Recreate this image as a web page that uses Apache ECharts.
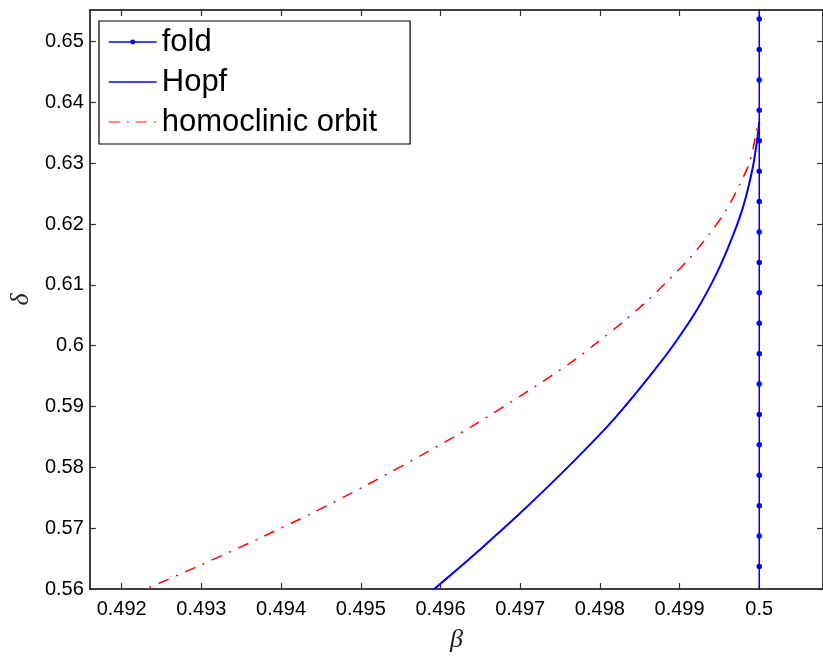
<!DOCTYPE html>
<html><head><meta charset="utf-8">
<script src="https://cdn.jsdelivr.net/npm/echarts@6/dist/echarts.min.js"></script>
<style>html,body{margin:0;padding:0;background:#fff}#c{width:823px;height:658px}</style>
</head><body><div id="c"></div>
<script>
const xTicks = [0.492, 0.493, 0.494, 0.495, 0.496, 0.497, 0.498, 0.499, 0.5];
const yTicks = [0.56, 0.57, 0.58, 0.59, 0.6, 0.61, 0.62, 0.63, 0.64, 0.65];

const foldBeta = 0.5;
const foldDelta = [0.5587, 0.5637, 0.5687, 0.5737, 0.5787, 0.5837, 0.5887, 0.5937, 0.5987, 0.6037, 0.6087, 0.6137, 0.6187, 0.6237, 0.6287, 0.6337, 0.6387, 0.6437, 0.6487, 0.6537, 0.6587];

const hopfBeta  = [0.49583, 0.495922, 0.496235, 0.496465, 0.496995, 0.497620, 0.498192, 0.498665, 0.498962, 0.499224, 0.499450, 0.499600, 0.499746, 0.499835, 0.499922, 0.499980, 0.5];
const hopfDelta = [0.559, 0.56, 0.5635, 0.56613, 0.57241, 0.58033, 0.58815, 0.59564, 0.60082, 0.60602, 0.61148, 0.61585, 0.62077, 0.62459, 0.62951, 0.63443, 0.6368];

const homBeta  = [0.49213, 0.492305, 0.492991, 0.493698, 0.494396, 0.495077, 0.495818, 0.496379, 0.497044, 0.497688, 0.49798, 0.498291, 0.498581, 0.498852, 0.499122, 0.499371, 0.499591, 0.499766, 0.49989, 0.499982];
const homDelta = [0.559, 0.56, 0.56393, 0.56815, 0.57252, 0.57711, 0.58241, 0.58662, 0.59208, 0.5977, 0.60066, 0.60393, 0.60721, 0.61066, 0.61433, 0.61831, 0.62241, 0.62679, 0.63061, 0.63662];

const seriesNames = ['fold', 'Hopf', 'homoclinic orbit'];

const zip = (xs, ys) => ys.map((y, i) => [Array.isArray(xs) ? xs[i] : xs, y]);

const chart = echarts.init(document.getElementById('c'), null, {renderer: 'canvas'});
const font = 'Liberation Sans, Arial, Helvetica, sans-serif';
const axisLine = {show: true, onZero: false, lineStyle: {color: '#000', width: 1.5}};
const tickStyle = {lineStyle: {color: '#333', width: 1.2}};
const noSym = {color: 'rgba(0,0,0,0)', borderColor: 'rgba(0,0,0,0)', borderWidth: 0};

chart.setOption({
  animation: false,
  backgroundColor: '#fff',
  grid: {left: 88, top: 10, width: 738, height: 582, containLabel: false},
  legend: {
    data: [
      {name: seriesNames[0], itemStyle: {color: '#0000ff', borderWidth: 0}, lineStyle: {color: '#0000ff', width: 1.5}},
      {name: seriesNames[1], itemStyle: noSym, lineStyle: {color: '#0000ff', width: 1.5}},
      {name: seriesNames[2], itemStyle: noSym, lineStyle: {color: '#ff6060', width: 1.5, type: [11, 7, 2, 7]}}
    ],
    orient: 'vertical',
    left: 99, top: 21,
    padding: [1, 33, 2, 9],
    itemGap: 0,
    itemWidth: 48,
    itemHeight: 6,
    backgroundColor: '#fff',
    borderColor: '#000',
    borderWidth: 1.2,
    borderRadius: 0,
    textStyle: {fontFamily: font, fontSize: 31, color: '#000', lineHeight: 40}
  },
  xAxis: [{
    type: 'value', min: 0.4916, max: 0.5008, position: 'bottom',
    name: 'β', nameLocation: 'middle', nameGap: 38,
    nameTextStyle: {fontFamily: 'Liberation Serif, serif', fontStyle: 'italic', fontSize: 26, color: '#222'},
    axisLine: axisLine,
    axisTick: Object.assign({show: true, inside: true, length: 6, customValues: xTicks}, tickStyle),
    axisLabel: {customValues: xTicks, margin: 10, fontFamily: font, fontSize: 20, color: '#000',
      formatter: v => String(+v.toFixed(3))},
    splitLine: {show: false}
  }, {
    type: 'value', min: 0.4916, max: 0.5008, position: 'top',
    axisLine: axisLine,
    axisTick: Object.assign({show: true, inside: true, length: 6, customValues: xTicks}, tickStyle),
    axisLabel: {show: false},
    splitLine: {show: false}
  }],
  yAxis: [{
    type: 'value', min: 0.56, max: 0.6552, position: 'left',
    name: 'δ', nameLocation: 'middle', nameGap: 47, nameRotate: 90,
    nameTextStyle: {fontFamily: 'Liberation Serif, serif', fontStyle: 'italic', fontSize: 26, color: '#222'},
    axisLine: axisLine,
    axisTick: Object.assign({show: true, inside: true, length: 6, customValues: yTicks}, tickStyle),
    axisLabel: {customValues: yTicks, margin: 6, fontFamily: font, fontSize: 20, color: '#000',
      formatter: v => String(+v.toFixed(2))},
    splitLine: {show: false}
  }, {
    type: 'value', min: 0.56, max: 0.6552, position: 'right',
    axisLine: axisLine,
    axisTick: Object.assign({show: true, inside: true, length: 6, customValues: yTicks}, tickStyle),
    axisLabel: {show: false},
    splitLine: {show: false}
  }],
  series: [{
    name: seriesNames[0], type: 'line', data: zip(foldBeta, foldDelta),
    symbol: 'circle', symbolSize: 5.5, showAllSymbol: true,
    lineStyle: {color: '#0000ff', width: 1.5},
    itemStyle: {color: '#0000ff'},
    clip: true, z: 2
  }, {
    name: seriesNames[1], type: 'line', data: zip(hopfBeta, hopfDelta),
    symbol: 'none', smooth: 0.3,
    lineStyle: {color: '#0000ff', width: 2},
    itemStyle: {color: '#0000ff'},
    clip: true, z: 3
  }, {
    name: seriesNames[2], type: 'line', data: zip(homBeta, homDelta),
    symbol: 'none', smooth: 0.3,
    lineStyle: {color: '#ff0000', width: 1.5, type: [11, 8, 2, 8]},
    itemStyle: {color: '#ff0000'},
    clip: true, z: 4
  }]
});
</script>
</body></html>
